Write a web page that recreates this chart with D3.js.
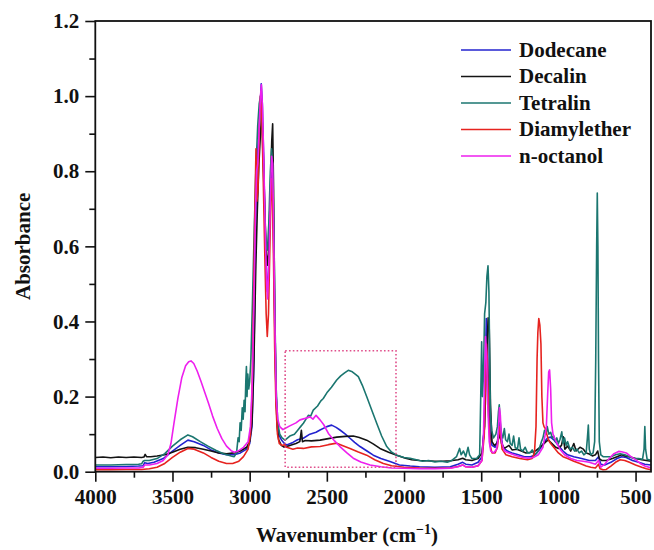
<!DOCTYPE html>
<html>
<head>
<meta charset="utf-8">
<script src="https://cdn.jsdelivr.net/npm/d3@7/dist/d3.min.js"></script>
<style>
  html, body { margin: 0; padding: 0; background: #fff; }
  svg { display: block; }
  svg text { font-family: 'Liberation Serif', 'DejaVu Serif', serif !important; font-weight: bold; fill: #111; }
</style>
</head>
<body>
<svg id="chart" width="654" height="550"></svg>
<script>
// FTIR absorbance spectra, [wavenumber (cm-1), absorbance]
const dodecane = [[4000,0.013],[3900,0.013],[3800,0.014],[3720,0.015],[3690,0.016],[3680,0.024],[3660,0.022],[3620,0.025],[3560,0.035],[3500,0.055],[3450,0.07],[3400,0.084],[3360,0.08],[3300,0.07],[3250,0.058],[3200,0.05],[3150,0.045],[3100,0.045],[3060,0.05],[3020,0.06],[3000,0.075],[2985,0.12],[2975,0.25],[2965,0.5],[2958,0.75],[2950,0.85],[2940,0.9],[2932,0.97],[2925,1.033],[2918,0.98],[2910,0.85],[2900,0.65],[2892,0.52],[2885,0.48],[2877,0.55],[2868,0.7],[2858,0.83],[2852,0.8],[2845,0.62],[2838,0.4],[2830,0.22],[2822,0.14],[2812,0.1],[2795,0.085],[2775,0.075],[2760,0.071],[2720,0.078],[2690,0.085],[2652,0.089],[2610,0.1],[2570,0.105],[2544,0.111],[2500,0.12],[2469,0.124],[2440,0.118],[2415,0.111],[2380,0.1],[2350,0.089],[2320,0.078],[2285,0.067],[2240,0.055],[2199,0.044],[2150,0.035],[2091,0.027],[2030,0.018],[1960,0.015],[1900,0.013],[1800,0.012],[1700,0.013],[1650,0.02],[1620,0.025],[1600,0.02],[1560,0.018],[1520,0.025],[1495,0.04],[1480,0.12],[1472,0.3],[1467,0.408],[1460,0.36],[1452,0.2],[1442,0.1],[1430,0.07],[1410,0.065],[1395,0.08],[1380,0.13],[1372,0.1],[1360,0.065],[1330,0.055],[1300,0.05],[1260,0.045],[1220,0.04],[1180,0.04],[1150,0.045],[1120,0.06],[1090,0.08],[1070,0.09],[1050,0.092],[1030,0.085],[1000,0.07],[970,0.055],[940,0.045],[900,0.04],[850,0.035],[800,0.03],[760,0.03],[740,0.04],[725,0.02],[700,0.018],[660,0.025],[620,0.035],[590,0.04],[560,0.038],[520,0.03],[480,0.025],[440,0.02],[400,0.018]];

const decalin = [[4000,0.038],[3950,0.039],[3900,0.037],[3850,0.039],[3800,0.038],[3750,0.039],[3700,0.038],[3685,0.039],[3677,0.046],[3668,0.04],[3640,0.04],[3600,0.042],[3550,0.045],[3500,0.052],[3450,0.06],[3400,0.065],[3350,0.064],[3300,0.06],[3250,0.055],[3200,0.05],[3150,0.048],[3100,0.05],[3060,0.055],[3020,0.065],[3000,0.08],[2985,0.13],[2972,0.3],[2960,0.55],[2950,0.7],[2940,0.82],[2930,0.9],[2921,0.96],[2912,0.85],[2902,0.7],[2893,0.58],[2885,0.55],[2876,0.6],[2866,0.75],[2857,0.88],[2851,0.926],[2845,0.75],[2838,0.45],[2830,0.22],[2822,0.12],[2812,0.085],[2795,0.07],[2775,0.065],[2740,0.07],[2700,0.075],[2675,0.08],[2665,0.11],[2658,0.08],[2640,0.083],[2600,0.082],[2544,0.084],[2490,0.088],[2436,0.092],[2380,0.094],[2329,0.095],[2290,0.091],[2242,0.084],[2200,0.074],[2156,0.062],[2100,0.052],[2047,0.044],[1990,0.036],[1950,0.032],[1900,0.03],[1850,0.029],[1800,0.028],[1750,0.028],[1700,0.029],[1650,0.032],[1620,0.036],[1600,0.032],[1560,0.03],[1520,0.035],[1495,0.05],[1478,0.12],[1465,0.3],[1455,0.41],[1448,0.38],[1440,0.18],[1430,0.08],[1415,0.07],[1400,0.075],[1385,0.09],[1378,0.1],[1368,0.075],[1350,0.062],[1320,0.07],[1300,0.058],[1270,0.06],[1240,0.055],[1210,0.05],[1180,0.052],[1150,0.055],[1120,0.065],[1100,0.072],[1080,0.08],[1065,0.085],[1050,0.078],[1035,0.072],[1020,0.066],[1000,0.062],[980,0.07],[968,0.093],[958,0.06],[940,0.068],[920,0.055],[900,0.075],[885,0.055],[860,0.065],[838,0.06],[820,0.05],[800,0.047],[780,0.042],[760,0.045],[745,0.055],[735,0.035],[720,0.03],[690,0.03],[650,0.035],[620,0.04],[590,0.045],[570,0.042],[540,0.04],[500,0.035],[460,0.032],[430,0.03],[400,0.028]];

const tetralin = [[4000,0.018],[3900,0.018],[3800,0.019],[3720,0.02],[3700,0.021],[3690,0.028],[3680,0.03],[3650,0.03],[3600,0.035],[3550,0.048],[3500,0.068],[3450,0.085],[3400,0.098],[3370,0.093],[3320,0.08],[3270,0.068],[3220,0.057],[3170,0.048],[3120,0.042],[3100,0.04],[3085,0.05],[3075,0.09],[3068,0.08],[3062,0.13],[3055,0.11],[3048,0.17],[3042,0.14],[3036,0.19],[3030,0.16],[3025,0.24],[3021,0.28],[3017,0.2],[3012,0.26],[3006,0.22],[3000,0.24],[2992,0.3],[2982,0.45],[2970,0.65],[2960,0.8],[2948,0.92],[2938,0.98],[2930,1.0],[2922,0.95],[2912,0.82],[2902,0.68],[2893,0.6],[2885,0.59],[2876,0.66],[2866,0.8],[2858,0.86],[2850,0.8],[2842,0.6],[2835,0.38],[2828,0.22],[2818,0.13],[2805,0.1],[2790,0.09],[2771,0.084],[2740,0.095],[2710,0.1],[2690,0.11],[2670,0.12],[2652,0.129],[2635,0.14],[2620,0.15],[2605,0.148],[2588,0.164],[2560,0.175],[2540,0.188],[2523,0.195],[2500,0.21],[2470,0.225],[2436,0.244],[2410,0.255],[2385,0.263],[2361,0.27],[2335,0.266],[2310,0.258],[2296,0.253],[2270,0.23],[2242,0.2],[2210,0.165],[2177,0.129],[2145,0.095],[2112,0.067],[2080,0.052],[2047,0.044],[2000,0.038],[1961,0.036],[1920,0.032],[1880,0.028],[1840,0.03],[1800,0.026],[1760,0.028],[1720,0.025],[1690,0.03],[1660,0.04],[1640,0.062],[1630,0.045],[1615,0.055],[1600,0.04],[1585,0.065],[1575,0.045],[1560,0.035],[1530,0.035],[1510,0.045],[1503,0.2],[1497,0.346],[1492,0.2],[1486,0.25],[1478,0.42],[1470,0.45],[1463,0.52],[1456,0.548],[1450,0.48],[1445,0.3],[1440,0.15],[1432,0.11],[1420,0.09],[1405,0.1],[1395,0.12],[1388,0.16],[1383,0.178],[1376,0.13],[1368,0.1],[1360,0.09],[1350,0.115],[1342,0.085],[1330,0.08],[1320,0.1],[1312,0.075],[1300,0.07],[1290,0.095],[1280,0.065],[1265,0.06],[1255,0.09],[1245,0.06],[1230,0.055],[1215,0.065],[1200,0.05],[1185,0.05],[1170,0.058],[1155,0.045],[1140,0.05],[1125,0.06],[1110,0.08],[1100,0.09],[1090,0.11],[1080,0.1],[1072,0.12],[1062,0.1],[1050,0.105],[1040,0.09],[1030,0.095],[1020,0.08],[1010,0.09],[1000,0.075],[990,0.085],[978,0.106],[970,0.075],[960,0.09],[950,0.07],[940,0.08],[925,0.06],[910,0.065],[895,0.055],[880,0.06],[865,0.05],[850,0.055],[835,0.045],[820,0.05],[812,0.09],[806,0.124],[800,0.06],[790,0.045],[775,0.05],[765,0.08],[758,0.3],[752,0.6],[748,0.742],[744,0.6],[740,0.3],[735,0.08],[725,0.045],[710,0.04],[690,0.04],[660,0.04],[630,0.045],[600,0.048],[570,0.045],[540,0.04],[510,0.035],[480,0.035],[455,0.033],[445,0.06],[440,0.12],[435,0.06],[425,0.033],[400,0.03]];

const diamylether = [[4000,0.005],[3900,0.005],[3800,0.006],[3700,0.006],[3650,0.008],[3600,0.012],[3550,0.022],[3500,0.038],[3450,0.052],[3400,0.062],[3360,0.06],[3300,0.05],[3250,0.038],[3200,0.028],[3150,0.022],[3110,0.022],[3070,0.028],[3040,0.04],[3010,0.06],[2995,0.1],[2985,0.2],[2975,0.45],[2966,0.7],[2959,0.86],[2953,0.72],[2946,0.75],[2938,0.9],[2930,1.0],[2922,0.96],[2912,0.78],[2902,0.58],[2893,0.42],[2886,0.36],[2878,0.42],[2868,0.62],[2860,0.78],[2852,0.72],[2845,0.55],[2838,0.33],[2830,0.18],[2820,0.1],[2808,0.075],[2790,0.07],[2775,0.072],[2760,0.065],[2720,0.06],[2690,0.063],[2652,0.062],[2600,0.066],[2544,0.067],[2490,0.072],[2436,0.076],[2400,0.07],[2350,0.062],[2300,0.053],[2242,0.044],[2190,0.032],[2134,0.022],[2080,0.016],[2000,0.012],[1900,0.01],[1800,0.009],[1700,0.01],[1650,0.014],[1620,0.018],[1600,0.013],[1560,0.012],[1520,0.016],[1495,0.03],[1480,0.1],[1472,0.25],[1466,0.34],[1460,0.3],[1452,0.15],[1442,0.07],[1430,0.05],[1410,0.05],[1395,0.065],[1380,0.12],[1374,0.1],[1365,0.06],[1340,0.045],[1300,0.04],[1250,0.035],[1200,0.032],[1170,0.035],[1155,0.05],[1145,0.12],[1138,0.3],[1133,0.37],[1127,0.408],[1120,0.39],[1113,0.34],[1107,0.2],[1100,0.13],[1093,0.12],[1085,0.115],[1075,0.1],[1065,0.085],[1050,0.075],[1030,0.065],[1000,0.05],[970,0.04],[940,0.035],[900,0.028],[860,0.022],[820,0.015],[790,0.012],[760,0.01],[740,0.02],[730,0.008],[710,0.005],[690,0.006],[660,0.015],[630,0.025],[600,0.032],[570,0.03],[540,0.025],[500,0.018],[460,0.012],[430,0.008],[400,0.005]];

const octanol = [[4000,0.009],[3900,0.009],[3800,0.01],[3720,0.01],[3690,0.012],[3680,0.018],[3650,0.018],[3600,0.022],[3560,0.03],[3530,0.045],[3510,0.075],[3490,0.13],[3465,0.195],[3440,0.25],[3415,0.282],[3395,0.293],[3380,0.295],[3362,0.288],[3340,0.268],[3315,0.24],[3290,0.21],[3265,0.18],[3240,0.148],[3210,0.115],[3180,0.088],[3150,0.068],[3120,0.056],[3100,0.052],[3075,0.055],[3040,0.065],[3010,0.08],[2995,0.12],[2982,0.25],[2970,0.5],[2962,0.7],[2955,0.8],[2947,0.82],[2938,0.92],[2930,1.0],[2924,1.03],[2917,0.97],[2908,0.82],[2898,0.62],[2890,0.5],[2884,0.46],[2876,0.55],[2866,0.72],[2858,0.84],[2851,0.82],[2844,0.62],[2836,0.38],[2828,0.2],[2818,0.14],[2805,0.12],[2785,0.112],[2771,0.115],[2740,0.122],[2700,0.13],[2674,0.138],[2640,0.142],[2609,0.146],[2590,0.14],[2570,0.15],[2544,0.138],[2520,0.125],[2490,0.102],[2450,0.082],[2415,0.067],[2370,0.05],[2329,0.036],[2280,0.026],[2220,0.018],[2150,0.013],[2080,0.01],[2000,0.009],[1900,0.008],[1800,0.008],[1700,0.009],[1650,0.013],[1620,0.018],[1600,0.013],[1560,0.012],[1520,0.016],[1495,0.03],[1485,0.1],[1478,0.25],[1472,0.36],[1466,0.32],[1458,0.18],[1448,0.08],[1438,0.055],[1420,0.05],[1400,0.06],[1390,0.09],[1382,0.17],[1376,0.15],[1368,0.08],[1350,0.055],[1320,0.05],[1290,0.045],[1250,0.04],[1200,0.036],[1160,0.038],[1130,0.045],[1100,0.065],[1085,0.1],[1078,0.12],[1070,0.2],[1063,0.265],[1057,0.271],[1050,0.22],[1044,0.13],[1035,0.1],[1020,0.085],[1010,0.076],[990,0.06],[960,0.045],[920,0.035],[880,0.03],[840,0.028],[800,0.025],[760,0.02],[740,0.03],[725,0.012],[700,0.02],[670,0.035],[640,0.048],[610,0.054],[590,0.053],[560,0.05],[530,0.04],[500,0.032],[470,0.022],[440,0.015],[400,0.01]];

const seriesNames  = ["Dodecane", "Decalin", "Tetralin", "Diamylether", "n-octanol"];
const seriesData   = [dodecane, decalin, tetralin, diamylether, octanol];
const seriesColors = ["#2323cf", "#141414", "#1b7670", "#e6231f", "#ee1fee"];

const xTicks = [4000, 3500, 3000, 2500, 2000, 1500, 1000, 500];
const xMinorTicks = [3750, 3250, 2750, 2250, 1750, 1250, 750];
const yTicks = [0.0, 0.2, 0.4, 0.6, 0.8, 1.0, 1.2];
const yMinorTicks = [0.1, 0.3, 0.5, 0.7, 0.9, 1.1];

// highlighted region (wavenumber from/to, absorbance low/high)
const boxWavenumbers = [2770, 2052];
const boxAbsorbance  = [0.012, 0.322];

const margin = { left: 95.3, right: 3, top: 21, bottom: 78.3 };
const W = 654, H = 550;
const FONT = "'Liberation Serif', 'DejaVu Serif', serif";

const svg = d3.select("#chart");
const x = d3.scaleLinear().domain([4000, 400]).range([margin.left, W - margin.right]);
const y = d3.scaleLinear().domain([0, 1.2]).range([H - margin.bottom, margin.top]);

const plotLeft = margin.left, plotRight = W - margin.right;
const plotTop = margin.top, plotBottom = H - margin.bottom;

// clip region for spectra
svg.append("defs").append("clipPath").attr("id", "plotClip")
  .append("rect")
  .attr("x", plotLeft).attr("y", plotTop)
  .attr("width", plotRight - plotLeft).attr("height", plotBottom - plotTop);

// spectra
const line = d3.line().x(d => x(d[0])).y(d => y(d[1]));
const gLines = svg.append("g").attr("clip-path", "url(#plotClip)");
seriesData.forEach((data, i) => {
  gLines.append("path")
    .datum(data)
    .attr("d", line)
    .attr("fill", "none")
    .attr("stroke", seriesColors[i])
    .attr("stroke-width", 1.6)
    .attr("stroke-linejoin", "round");
});

// dotted highlight box
svg.append("rect")
  .attr("x", x(boxWavenumbers[0]))
  .attr("y", y(boxAbsorbance[1]))
  .attr("width", x(boxWavenumbers[1]) - x(boxWavenumbers[0]))
  .attr("height", y(boxAbsorbance[0]) - y(boxAbsorbance[1]))
  .attr("fill", "none")
  .attr("stroke", "#e0508c")
  .attr("stroke-width", 1.6)
  .attr("stroke-dasharray", "1.6 2.2");

// axes
const xAxis = d3.axisBottom(x).tickValues(xTicks).tickFormat(d3.format("d"))
  .tickSize(10).tickSizeOuter(0).tickPadding(7);
const xAxisMinor = d3.axisBottom(x).tickValues(xMinorTicks).tickFormat("")
  .tickSize(6).tickSizeOuter(0);
const yAxis = d3.axisLeft(y).tickValues(yTicks).tickFormat(d3.format(".1f"))
  .tickSize(10).tickSizeOuter(0).tickPadding(6);
const yAxisMinor = d3.axisLeft(y).tickValues(yMinorTicks).tickFormat("")
  .tickSize(6).tickSizeOuter(0);

function styleAxis(g) {
  g.attr("font-family", null).attr("font-size", null);
  g.select(".domain").remove();
  g.selectAll("line").attr("stroke", "#111").attr("stroke-width", 1.6);
  g.selectAll("text").style("font-family", FONT).style("font-size", "21px")
    .style("font-weight", "bold").attr("fill", "#111");
}

svg.append("g").attr("transform", `translate(0,${plotBottom})`).call(xAxis).call(styleAxis);
svg.append("g").attr("transform", `translate(0,${plotBottom})`).call(xAxisMinor).call(styleAxis);
svg.append("g").attr("transform", `translate(${plotLeft},0)`).call(yAxis).call(styleAxis);
svg.append("g").attr("transform", `translate(${plotLeft},0)`).call(yAxisMinor).call(styleAxis);

// frame
svg.append("rect")
  .attr("x", plotLeft).attr("y", plotTop)
  .attr("width", plotRight - plotLeft).attr("height", plotBottom - plotTop)
  .attr("fill", "none").attr("stroke", "#111").attr("stroke-width", 1.8);

// axis titles
const xTitle = svg.append("text")
  .attr("x", 347).attr("y", 542)
  .attr("text-anchor", "middle")
  .style("font-family", FONT).style("font-size", "21px");
xTitle.append("tspan").text("Wavenumber (cm");
xTitle.append("tspan").style("font-size", "14px").attr("dy", -8).text("\u22121");
xTitle.append("tspan").attr("dy", 8).text(")");

svg.append("text")
  .attr("transform", `translate(30,${(plotTop + plotBottom) / 2}) rotate(-90)`)
  .attr("text-anchor", "middle")
  .style("font-family", FONT).style("font-size", "21px")
  .text("Absorbance");

// legend
const legend = svg.append("g").attr("transform", "translate(461,50)");
seriesNames.forEach((name, i) => {
  const row = legend.append("g").attr("transform", `translate(0,${i * 26.5})`);
  row.append("line").attr("x1", 0).attr("x2", 50).attr("y1", 0).attr("y2", 0)
    .attr("stroke", seriesColors[i]).attr("stroke-width", 1.6);
  row.append("text").attr("x", 58).attr("y", 0).attr("dy", "0.33em")
    .style("font-family", FONT).style("font-size", "21px").text(name);
});
</script>
</body>
</html>
